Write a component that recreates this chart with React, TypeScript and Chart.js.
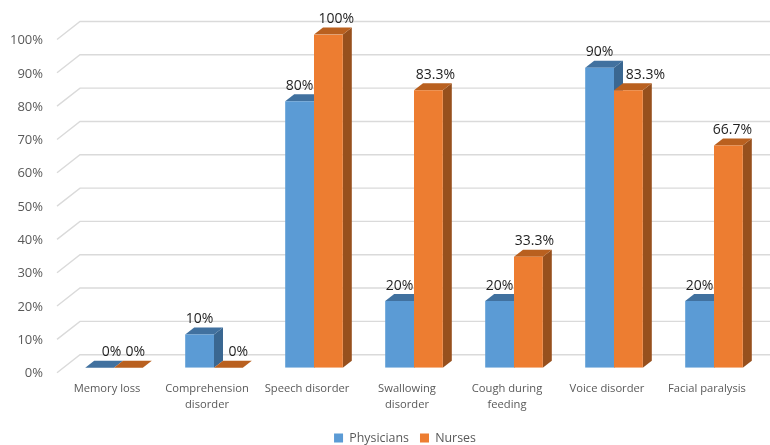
import { useEffect, useRef } from "react";
import { Chart, registerables } from "chart.js";

Chart.register(...registerables);

const categories = [
  "Memory loss",
  ["Comprehension", "disorder"],
  "Speech disorder",
  ["Swallowing", "disorder"],
  ["Cough during", "feeding"],
  "Voice disorder",
  "Facial paralysis",
];
const physicians = [0, 10, 80, 20, 20, 90, 20];
const nurses = [0, 0, 100, 83.3, 33.3, 83.3, 66.7];

// Horizontal nudges that keep neighbouring value labels apart.
const physicianLabelShift = [12, 0, 0, 0, 0, 0, 0];
const nurseLabelShift = [7, 10, 8, 7, 6, 17, 4];

const FONT = '"Open Sans", sans-serif';
const DEPTH_X = 9;
const DEPTH_Y = 7;

const faces = [
  { front: "#5B9BD5", top: "#41719F", side: "#3A6791" },
  { front: "#ED7D31", top: "#B9601F", side: "#97501D" },
];

function quad(ctx: CanvasRenderingContext2D, pts: number[][], fill: string) {
  ctx.beginPath();
  pts.forEach(([x, y], i) => (i ? ctx.lineTo(x, y) : ctx.moveTo(x, y)));
  ctx.closePath();
  ctx.fillStyle = fill;
  ctx.fill();
}

// Centres the legend under the plot rather than under the whole canvas.
const legendPlacementPlugin = {
  id: "legendPlacement",
  afterLayout(chart: any) {
    if (chart.legend) chart.legend.left += 46;
  },
};

// Back wall and side wall rules of the 3D box.
const wallPlugin = {
  id: "wall",
  beforeDatasetsDraw(chart: any) {
    const { ctx, scales } = chart;
    ctx.save();
    ctx.strokeStyle = "#DADADA";
    ctx.lineWidth = 1.4;
    scales.y.ticks.forEach((t: any) => {
      const py = scales.y.getPixelForValue(t.value);
      ctx.beginPath();
      ctx.moveTo(57, py + 5);
      ctx.lineTo(80, py - 13);
      ctx.lineTo(770, py - 13);
      ctx.stroke();
    });
    ctx.restore();
  },
};

// Extruded top and side faces; the chart's own bars are the front faces.
const extrudePlugin = {
  id: "extrude",
  beforeDatasetsDraw(chart: any) {
    const { ctx } = chart;
    ctx.save();
    chart.data.datasets.forEach((_: any, d: number) => {
      chart.getDatasetMeta(d).data.forEach((bar: any) => {
        const l = bar.x - bar.width / 2;
        const r = bar.x + bar.width / 2;
        quad(ctx, [[r, bar.base], [r + DEPTH_X, bar.base - DEPTH_Y], [r + DEPTH_X, bar.y - DEPTH_Y], [r, bar.y]], faces[d].side);
        quad(ctx, [[l, bar.y], [r, bar.y], [r + DEPTH_X, bar.y - DEPTH_Y], [l + DEPTH_X, bar.y - DEPTH_Y]], faces[d].top);
      });
    });
    ctx.restore();
  },
};

const shifts = [physicianLabelShift, nurseLabelShift];

const valueLabelPlugin = {
  id: "valueLabels",
  afterDatasetsDraw(chart: any) {
    const { ctx } = chart;
    ctx.save();
    ctx.font = `14px ${FONT}`;
    ctx.fillStyle = "#1F1F1F";
    ctx.textAlign = "center";
    ctx.textBaseline = "middle";
    chart.data.datasets.forEach((ds: any, d: number) => {
      chart.getDatasetMeta(d).data.forEach((bar: any, i: number) => {
        ctx.fillText(`${ds.data[i]}%`, bar.x + shifts[d][i], bar.y - 15.5);
      });
    });
    ctx.restore();
  },
};

export default function App() {
  const ref = useRef<HTMLCanvasElement>(null);
  useEffect(() => {
    const chart = new Chart(ref.current!, {
      type: "bar",
      data: {
        labels: categories as any,
        datasets: [
          { label: "Physicians", data: physicians, backgroundColor: faces[0].front, borderWidth: 0, barPercentage: 1, categoryPercentage: 0.576 },
          { label: "Nurses", data: nurses, backgroundColor: faces[1].front, borderWidth: 0, barPercentage: 1, categoryPercentage: 0.576 },
        ],
      },
      options: {
        responsive: false,
        animation: false,
        layout: { padding: { left: 0, right: 6, top: 34.5, bottom: -9.2 } },
        plugins: {
          tooltip: { enabled: false },
          legend: {
            position: "bottom",
            labels: {
              boxWidth: 9,
              boxHeight: 9,
              padding: 11,
              color: "#595959",
              font: { family: FONT, size: 12.4 },
            },
          },
        },
        scales: {
          x: {
            grid: { display: false, drawTicks: false },
            border: { display: false },
            afterFit(scale: any) {
              scale.height = 53.1;
            },
            ticks: {
              autoSkip: false,
              maxRotation: 0,
              padding: 13,
              labelOffset: -7,
              color: "#595959",
              font: { family: FONT, size: 11.2, lineHeight: 16 / 11.2 },
            },
          },
          y: {
            min: 0,
            max: 100,
            grid: { display: false, drawTicks: false },
            border: { display: false },
            afterFit(scale: any) {
              scale.width = 64;
            },
            ticks: {
              stepSize: 10,
              padding: 21,
              labelOffset: 6,
              color: "#595959",
              font: { family: FONT, size: 13 },
              callback: (v: any) => `${v}%`,
            },
          },
        },
      },
      plugins: [legendPlacementPlugin, wallPlugin, extrudePlugin, valueLabelPlugin],
    });
    return () => chart.destroy();
  }, []);
  return (
    <div style={{ position: "absolute", left: 0, top: 0, width: 770, height: 445 }}>
      <canvas ref={ref} width={770} height={445} />
    </div>
  );
}
